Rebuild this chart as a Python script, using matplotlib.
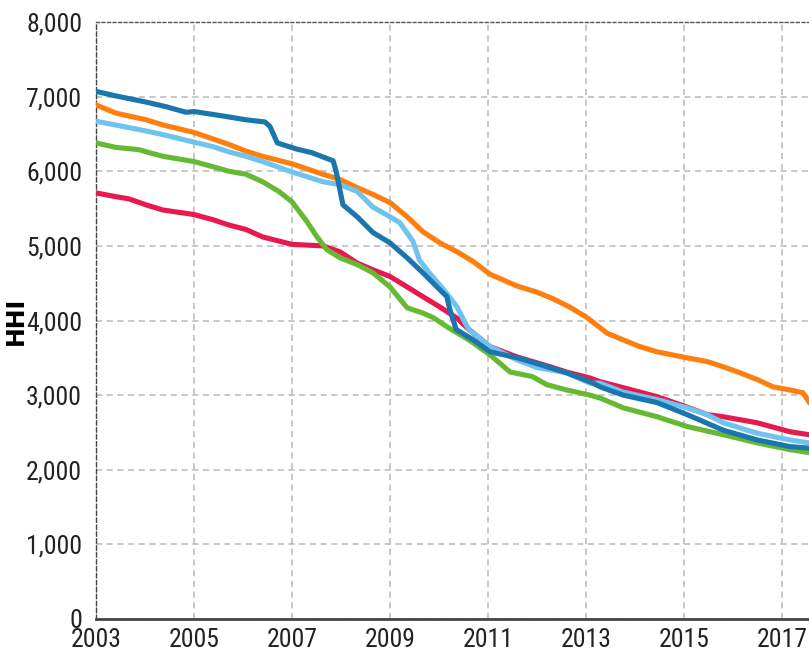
import matplotlib
matplotlib.use("Agg")
import matplotlib.pyplot as plt
from matplotlib import font_manager as fm
from matplotlib.ticker import FuncFormatter

# pick a narrow face for the tick labels if one is installed
names = {f.name for f in fm.fontManager.ttflist}
narrow = None
for cand in ['Roboto Condensed', 'Liberation Sans Narrow', 'Open Sans Condensed',
             'Noto Sans Condensed', 'DejaVu Sans Condensed', 'Arial Narrow']:
    if cand in names:
        narrow = (cand, 'normal')
        break
if narrow is None:
    for f in fm.fontManager.ttflist:
        if f.name in ('Noto Sans', 'DejaVu Sans', 'Open Sans', 'Roboto') and \
                str(f.stretch) in ('condensed', 'semi-condensed', 'extra-condensed', '75', '87.5'):
            narrow = (f.name, 'condensed')
            break
if narrow is None:
    tick_font = dict(family=['DejaVu Sans'], size=13)
else:
    tick_font = dict(family=[narrow[0], 'DejaVu Sans'], size=18.5, stretch=narrow[1])

# values (decimal year, HHI)
blue_x = [2003.0, 2003.4, 2004.0, 2004.4, 2004.84, 2005.0, 2005.5, 2006.06, 2006.45,
          2006.55, 2006.7, 2007.08, 2007.4, 2007.84, 2007.9, 2008.04, 2008.33, 2008.65,
          2009.0, 2009.35, 2009.67, 2010.02, 2010.16, 2010.22, 2010.35, 2010.7, 2011.04,
          2011.6, 2012.06, 2012.6, 2013.08, 2013.29, 2013.76, 2014.45, 2015.06, 2015.8,
          2016.49, 2017.16, 2017.55]
blue_y = [7070, 7010, 6930, 6870, 6790, 6800, 6750, 6690, 6660,
          6600, 6380, 6300, 6250, 6140, 6000, 5550, 5390, 5180,
          5040, 4840, 4640, 4410, 4320, 4150, 3880, 3740, 3580,
          3500, 3410, 3300, 3180, 3110, 3000, 2900, 2740, 2530,
          2400, 2310, 2290]

orange_x = [2003.0, 2003.4, 2004.02, 2004.37, 2005.0, 2005.71, 2006.06, 2006.4, 2007.0,
            2007.63, 2007.98, 2008.33, 2008.65, 2009.0, 2009.35, 2009.67, 2010.02, 2010.37,
            2010.7, 2011.04, 2011.6, 2012.0, 2012.33, 2012.67, 2013.02, 2013.43, 2013.76,
            2014.1, 2014.45, 2015.06, 2015.47, 2015.8, 2016.14, 2016.49, 2016.82, 2017.16,
            2017.43, 2017.55]
orange_y = [6890, 6780, 6690, 6620, 6520, 6360, 6270, 6200, 6100,
            5960, 5890, 5780, 5690, 5580, 5390, 5190, 5040, 4920,
            4790, 4620, 4460, 4380, 4290, 4180, 4040, 3830, 3740,
            3650, 3580, 3500, 3450, 3380, 3300, 3210, 3110, 3070,
            3030, 2910]

light_x = [2003.0, 2003.4, 2004.02, 2004.37, 2005.0, 2005.39, 2005.71, 2006.06, 2006.4,
           2007.0, 2007.63, 2007.98, 2008.33, 2008.65, 2009.0, 2009.2, 2009.47, 2009.6,
           2009.8, 2010.1, 2010.37, 2010.5, 2010.61, 2011.04, 2011.6, 2012.0, 2012.6,
           2013.08, 2013.29, 2013.76, 2014.45, 2015.06, 2015.47, 2015.8, 2016.49, 2017.16,
           2017.55]
light_y = [6670, 6620, 6540, 6490, 6390, 6330, 6260, 6200, 6130,
           5990, 5860, 5820, 5730, 5520, 5390, 5310, 5060, 4810,
           4640, 4410, 4180, 4010, 3880, 3650, 3470, 3370, 3300,
           3160, 3160, 3040, 2940, 2830, 2740, 2630, 2490, 2400,
           2360]

green_x = [2003.0, 2003.4, 2003.87, 2004.08, 2004.37, 2005.0, 2005.39, 2005.71, 2006.06,
           2006.4, 2006.73, 2007.0, 2007.3, 2007.5, 2007.71, 2007.98, 2008.33, 2008.65,
           2009.0, 2009.35, 2009.67, 2009.88, 2010.2, 2010.61, 2011.04, 2011.45, 2011.9,
           2012.2, 2012.6, 2013.08, 2013.29, 2013.76, 2014.45, 2015.06, 2015.8, 2016.49,
           2017.16, 2017.55]
green_y = [6380, 6320, 6290, 6250, 6200, 6130, 6060, 6000, 5960,
           5860, 5730, 5590, 5330, 5130, 4950, 4840, 4750, 4640,
           4450, 4170, 4100, 4040, 3900, 3740, 3540, 3310, 3250,
           3140, 3070, 3000, 2960, 2830, 2710, 2580, 2470, 2360,
           2270, 2230]

red_x = [2003.0, 2003.4, 2003.67, 2004.02, 2004.37, 2005.0, 2005.39, 2005.71, 2006.06,
         2006.4, 2007.0, 2007.63, 2007.98, 2008.33, 2008.65, 2009.0, 2009.35, 2009.67,
         2010.02, 2010.37, 2010.61, 2011.04, 2011.6, 2012.27, 2012.6, 2013.08, 2013.29,
         2013.76, 2014.45, 2015.06, 2015.47, 2015.8, 2016.49, 2017.16, 2017.55]
red_y = [5710, 5660, 5630, 5550, 5480, 5420, 5350, 5280, 5220,
         5120, 5020, 5000, 4920, 4770, 4680, 4590, 4450, 4320,
         4180, 4030, 3880, 3650, 3510, 3380, 3310, 3230, 3180,
         3100, 2980, 2840, 2740, 2710, 2630, 2510, 2470]

yticks = [0, 1000, 2000, 3000, 4000, 5000, 6000, 7000, 8000]
xticks = [2003, 2005, 2007, 2009, 2011, 2013, 2015, 2017]

series = [
    (orange_x, orange_y, '#ff7f0e'),
    (red_x, red_y, '#e8194f'),
    (green_x, green_y, '#66b933'),
    (light_x, light_y, '#6ec4ee'),
    (blue_x, blue_y, '#1a76ad'),
]

fig = plt.figure(figsize=(8.09, 6.54), dpi=100)
ax = fig.add_axes([96 / 809, 35 / 654, 713 / 809, 597 / 654])

for xs, ys, c in series:
    ax.plot(xs, ys, color=c, lw=3.7, solid_joinstyle='round', zorder=3)

ax.set_xlim(2003, 2003 + 713 / 49)
ax.set_ylim(0, 8000)
ax.set_xticks(xticks)
ax.set_yticks(yticks)
ax.yaxis.set_major_formatter(FuncFormatter(lambda v, p: f'{int(v):,}'))
ax.tick_params(length=0, colors='#222222')
ax.tick_params(axis='y', pad=10)
ax.tick_params(axis='x', pad=6.5)
for lab in ax.get_xticklabels() + ax.get_yticklabels():
    lab.set_family(tick_font['family'])
    lab.set_fontsize(tick_font['size'])
    if 'stretch' in tick_font:
        lab.set_stretch(tick_font['stretch'])

ax.grid(True, color='#b8b8b8', lw=1.1, ls=(0, (4, 3)), zorder=0)
ax.spines['right'].set_visible(False)
ax.spines['top'].set_linestyle((0, (2, 2)))
ax.spines['top'].set_color('#555555')
ax.spines['top'].set_linewidth(1.0)
ax.spines['left'].set_linestyle((0, (3, 2)))
ax.spines['left'].set_color('#444444')
ax.spines['left'].set_linewidth(1.0)
ax.spines['bottom'].set_color('#444444')
ax.spines['bottom'].set_linewidth(2.0)

ax.set_ylabel('HHI', fontsize=17, fontweight='bold', family=['DejaVu Sans'])
ax.yaxis.set_label_coords(-0.095, 0.5)

fig.savefig('out.png', dpi=100)
